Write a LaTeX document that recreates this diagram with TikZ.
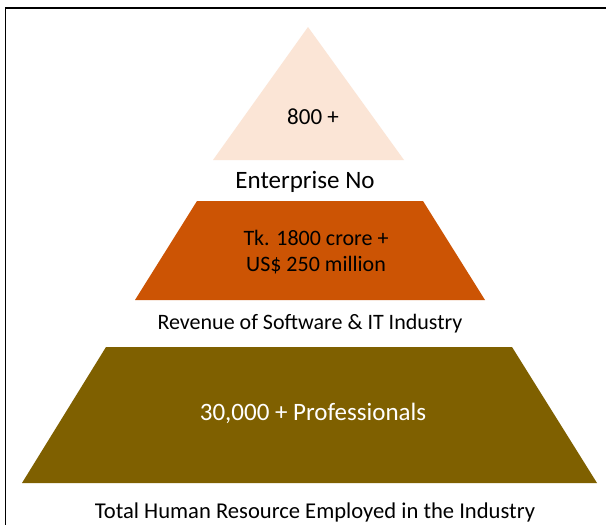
\documentclass[tikz,border=0pt]{standalone}
\usepackage{fontspec}
\setmainfont{Carlito}
\begin{document}
\begin{tikzpicture}[x=1pt,y=-1pt,
  tier/.style={draw=none},
  caption/.style={text=black,anchor=center,inner sep=0pt},
  inlabel/.style={anchor=center,inner sep=0pt,align=center}]
\definecolor{peach}{RGB}{251,229,214}
\definecolor{rust}{RGB}{204,84,4}
\definecolor{olive}{RGB}{127,96,0}
\useasboundingbox (0,0) rectangle (606,525);
\fill[white] (0,0) rectangle (606,525);
% frame (top and left edges)
\draw[line width=1.8pt,line cap=rect] (606,8) -- (5.5,8) -- (5.5,525);
% top tier: triangle
\fill[peach] (308,27) -- (404,160) -- (213,160) -- cycle;
\node[inlabel,font=\fontsize{23}{26}\selectfont] (ent) at (313,117) {800 +};
\node[caption,font=\fontsize{25}{28}\selectfont] (entcap) at (305,182) {Enterprise No};
% middle tier
\fill[rust] (197,201) -- (423,201) -- (485,300) -- (135,300) -- cycle;
\node[inlabel,font=\fontsize{22}{26}\selectfont] (rev) at (316,252) {Tk. 1800 crore +\\US\$ 250 million};
\node[caption,font=\fontsize{22}{26}\selectfont] (revcap) at (310,324) {Revenue of Software \& IT Industry};
% bottom tier
\fill[olive] (106,347) -- (512,347) -- (597,483) -- (22,483) -- cycle;
\node[inlabel,text=white,font=\fontsize{25}{28}\selectfont] (hr) at (313,413) {30,000 + Professionals};
\node[caption,font=\fontsize{22.6}{26}\selectfont] (hrcap) at (315,512) {Total Human Resource Employed in the Industry};
\end{tikzpicture}
\end{document}
